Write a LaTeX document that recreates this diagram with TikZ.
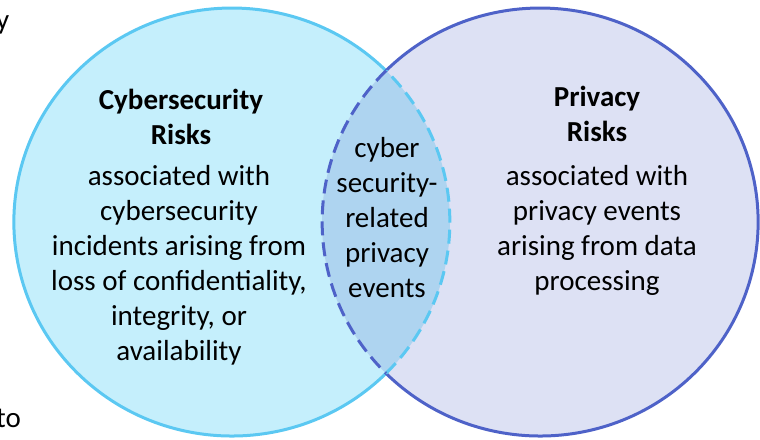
\documentclass[tikz,border=0pt]{standalone}
\usepackage{fontspec}
\setmainfont{Carlito}
\usepackage{tikz}

\begin{document}
\begin{tikzpicture}[x=1pt, y=-1pt]

\definecolor{cyberline}{RGB}{91,200,242}
\definecolor{cyberfill}{RGB}{197,239,252}
\definecolor{privline}{RGB}{78,98,200}
\definecolor{privfill}{RGB}{221,225,244}
\definecolor{lensfill}{RGB}{174,212,240}

\def\rx{218pt}
\def\ry{214pt}

\tikzset{venntext/.style={align=center, font=\fontsize{29}{35}\selectfont}}
\tikzset{venntitle/.style={align=center, font=\fontsize{29}{35}\selectfont\bfseries}}
\tikzset{rim/.style={line width=3pt}}
\tikzset{dashrim/.style={line width=3pt, dash pattern=on 14pt off 7pt}}

\useasboundingbox (0,0) rectangle (760,439);

\coordinate (cybc) at (232,222);
\coordinate (privc) at (540,222);
\coordinate (lenstop) at (386,70.7);
\coordinate (lensbot) at (386,373.3);

\fill[cyberfill] (cybc) ellipse [x radius=\rx, y radius=\ry];
\fill[privfill] (privc) ellipse [x radius=\rx, y radius=\ry];
\begin{scope}
\clip (cybc) ellipse [x radius=\rx, y radius=\ry];
\fill[lensfill] (privc) ellipse [x radius=\rx, y radius=\ry];
\end{scope}

\draw[rim, cyberline] (lenstop) arc [start angle=45, end angle=315, x radius=\rx, y radius=\ry];
\draw[rim, privline] (lenstop) arc [start angle=135, end angle=-135, x radius=\rx, y radius=\ry];

%\draw[dotted] (lenstop) -- (lensbot);
\draw[dashrim, cyberline] (lensbot) arc [start angle=-45, end angle=45, x radius=\rx, y radius=\ry];
\draw[dashrim, privline] (lenstop) arc [start angle=135, end angle=225, x radius=\rx, y radius=\ry];

\node[venntitle] (cybtitle) at (181,117) {Cybersecurity\\Risks};
\node[venntext] (cybbody) at (179,265) {associated with\\cybersecurity\\incidents arising from\\loss of confidentiality,\\integrity, or\\availability};

\node[venntext] (overlap) at (387,218) {cyber\\security-\\related\\privacy\\events};

\node[venntitle] (privtitle) at (597,114) {Privacy\\Risks};
\node[venntext] (privbody) at (597,230) {associated with\\privacy events\\arising from data\\processing};

\node[venntext, anchor=base west, inner sep=0pt] (cuty) at (-4,29) {y};
\node[venntext, anchor=base west, inner sep=0pt] (cutto) at (-4,427) {to};

\end{tikzpicture}
\end{document}
